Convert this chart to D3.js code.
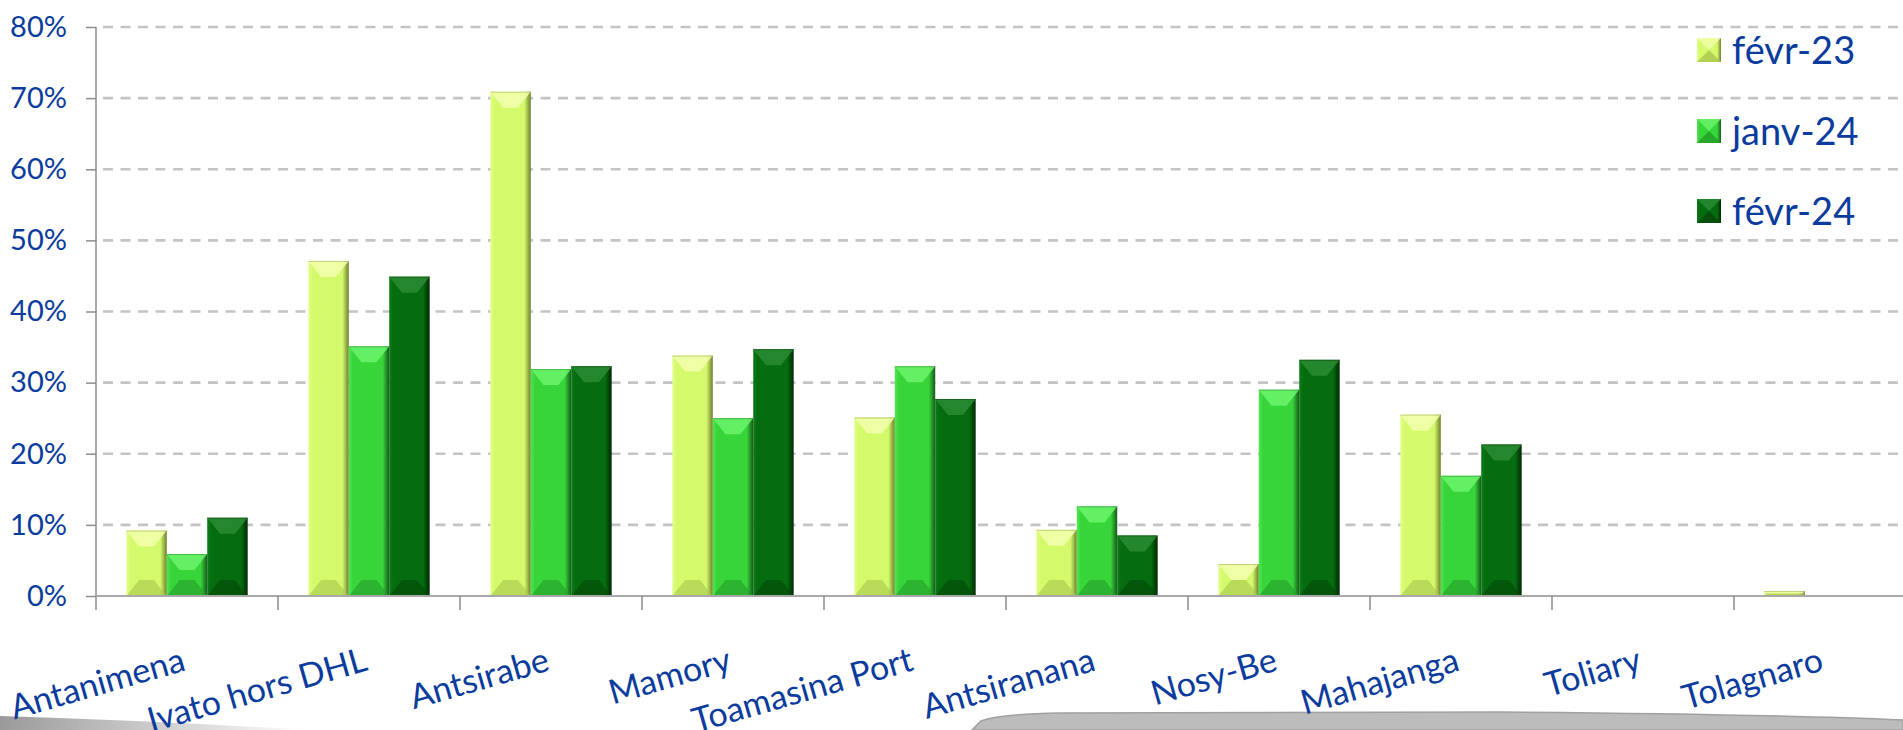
<!DOCTYPE html>
<html>
<head>
<meta charset="utf-8">
<script src="https://cdn.jsdelivr.net/npm/d3@7"></script>
<style>
  html, body { margin: 0; padding: 0; background: #fff; overflow: hidden; }
  text { font-family: Lato, "Open Sans", sans-serif; fill: #0b3c9d; }
</style>
</head>
<body>
<div id="chart"></div>
<script>
const width = 1903;
const height = 730;

// Data
const categories = ['Antanimena', 'Ivato hors DHL', 'Antsirabe', 'Mamory', 'Toamasina Port',
  'Antsiranana', 'Nosy-Be', 'Mahajanga', 'Toliary', 'Tolagnaro'];
const seriesNames = ['févr-23', 'janv-24', 'févr-24'];
const fevr23 = [9.2, 47.1, 70.9, 33.8, 25.1, 9.3, 4.5, 25.5, 0, 0.7];
const janv24 = [5.9, 35.1, 31.9, 25.0, 32.3, 12.6, 29.0, 16.9, 0, 0];
const fevr24 = [11.0, 44.9, 32.3, 34.7, 27.7, 8.5, 33.2, 21.3, 0, 0];
const yTicks = [0, 10, 20, 30, 40, 50, 60, 70, 80];

// base / top bevel / bottom bevel / light edge / dark edge
const palette = {
  'févr-23': ['#d4fa6c', '#f2ffae', '#a9c64e', '#e2ff8c', '#6f7f2c'],
  'janv-24': ['#38d53a', '#6cf46c', '#249c28', '#52e552', '#15581a'],
  'févr-24': ['#066c10', '#2a8c33', '#034808', '#0b7d16', '#012805']
};

// plot box (the chart runs off the right edge, like the original)
const x0 = 96;
const step = 182;
const yBase = 596;
const yTop = 27;
const labelY = 670;

const x = d3.scaleBand()
  .domain(categories)
  .range([x0, x0 + step * categories.length]);

const xInner = d3.scaleBand()
  .domain(seriesNames)
  .range([0, x.bandwidth()])
  .paddingOuter(0.75);

const y = d3.scaleLinear()
  .domain([0, 80])
  .range([yBase, yTop]);

const rows = categories.map((c, i) => ({
  cat: c,
  values: [
    { name: seriesNames[0], v: fevr23[i] },
    { name: seriesNames[1], v: janv24[i] },
    { name: seriesNames[2], v: fevr24[i] }
  ]
}));

const svg = d3.select('#chart').append('svg')
  .attr('width', width)
  .attr('height', height);

const defs = svg.append('defs');

seriesNames.forEach((s, i) => {
  const p = palette[s];
  const g = defs.append('linearGradient')
    .attr('id', 'grad' + i)
    .attr('x1', 0).attr('x2', 1).attr('y1', 0).attr('y2', 0);
  g.append('stop').attr('offset', '0%').attr('stop-color', p[3]);
  g.append('stop').attr('offset', '10%').attr('stop-color', p[0]);
  g.append('stop').attr('offset', '84%').attr('stop-color', p[0]);
  g.append('stop').attr('offset', '100%').attr('stop-color', p[4]);
});

const floorGrad = defs.append('linearGradient')
  .attr('id', 'floorLeft')
  .attr('x1', 0).attr('x2', 1).attr('y1', 0).attr('y2', 0);
floorGrad.append('stop').attr('offset', '0%').attr('stop-color', '#9a9a9a');
floorGrad.append('stop').attr('offset', '100%').attr('stop-color', '#ffffff');

// bottom decoration (grey shadow shapes)
svg.append('path')
  .attr('d', 'M0,716 Q160,721 310,730 L0,730 Z')
  .attr('fill', 'url(#floorLeft)');

svg.append('path')
  .attr('d', 'M972,730 L981,721 Q1000,714 1060,713 L1500,712 Q1760,714 1903,720 L1903,730 Z')
  .attr('fill', '#bcbcbc')
  .attr('stroke', '#a0a0a0')
  .attr('stroke-width', 1.5);

// gridlines
svg.append('g')
  .selectAll('line')
  .data(yTicks.slice(1))
  .enter()
  .append('line')
    .attr('x1', x0 + 2)
    .attr('x2', width)
    .attr('y1', d => y(d))
    .attr('y2', d => y(d))
    .attr('stroke', '#c4c4c4')
    .attr('stroke-width', 2.6)
    .attr('stroke-dasharray', '10 7.5')
    .attr('stroke-dashoffset', -5);

// y axis
const yAxis = d3.axisLeft(y)
  .tickValues(yTicks)
  .tickFormat(d => d + '%')
  .tickSize(10)
  .tickPadding(19);

const yAxisG = svg.append('g')
  .attr('transform', `translate(${x0}, 0)`)
  .call(yAxis);

yAxisG.select('.domain').remove();
yAxisG.selectAll('.tick line').attr('stroke', '#8c8c8c').attr('stroke-width', 1.5);
yAxisG.selectAll('.tick text')
  .attr('font-size', 29)
  .attr('font-family', 'Lato, sans-serif')
  .attr('fill', '#0b3c9d');

svg.append('line')
  .attr('x1', x0).attr('x2', x0)
  .attr('y1', yTop).attr('y2', yBase + 14)
  .attr('stroke', '#8c8c8c')
  .attr('stroke-width', 1.5);

// bars
function bevelBar (sel, i) {
  const p = palette[seriesNames[i]];
  sel.each(function (d) {
    const g = d3.select(this);
    const bx = xInner(d.name);
    const bw = xInner.bandwidth();
    const by = y(d.v);
    const bh = yBase - by;
    if (bh <= 0) return;
    const b = Math.min(16, bh / 2);
    const inset = Math.min(8, bw / 4) * (b / 16);

    g.append('rect')
      .attr('x', bx).attr('y', by)
      .attr('width', bw).attr('height', bh)
      .attr('fill', `url(#grad${i})`);

    g.append('path')
      .attr('d', `M${bx},${by} L${bx + bw},${by} L${bx + bw - inset * 1.6},${by + b} L${bx + inset * 1.6},${by + b} Z`)
      .attr('fill', p[1])
      .attr('opacity', 0.85);

    g.append('path')
      .attr('d', `M${bx},${yBase} L${bx + bw},${yBase} L${bx + bw - inset * 1.6},${yBase - b} L${bx + inset * 1.6},${yBase - b} Z`)
      .attr('fill', p[2])
      .attr('opacity', 0.6);

    g.append('line')
      .attr('x1', bx).attr('x2', bx + bw)
      .attr('y1', by + 0.5).attr('y2', by + 0.5)
      .attr('stroke', p[4])
      .attr('stroke-opacity', 0.35);
  });
}

const groups = svg.append('g')
  .selectAll('g')
  .data(rows)
  .enter()
  .append('g')
    .attr('transform', d => `translate(${x(d.cat)}, 0)`);

seriesNames.forEach((s, i) => {
  groups.append('g')
    .datum(d => d.values[i])
    .call(bevelBar, i);
});

// x axis
svg.append('line')
  .attr('x1', x0).attr('x2', width)
  .attr('y1', yBase).attr('y2', yBase)
  .attr('stroke', '#a8a8a8')
  .attr('stroke-width', 2);

svg.append('g')
  .selectAll('line')
  .data(categories.slice(1))
  .enter()
  .append('line')
    .attr('x1', d => x(d))
    .attr('x2', d => x(d))
    .attr('y1', yBase)
    .attr('y2', yBase + 14)
    .attr('stroke', '#8c8c8c')
    .attr('stroke-width', 1.5);

svg.append('g')
  .selectAll('text')
  .data(categories)
  .enter()
  .append('text')
    .attr('x', d => x(d) + x.bandwidth() / 2)
    .attr('y', labelY)
    .attr('text-anchor', 'end')
    .attr('font-size', 34)
    .attr('transform', d => `rotate(-16, ${x(d) + x.bandwidth() / 2}, ${labelY})`)
    .text(d => d);

// legend
const legend = svg.append('g')
  .attr('transform', 'translate(1697, 0)');

const legendRows = [50, 131, 211];

seriesNames.forEach((s, i) => {
  const p = palette[s];
  const g = legend.append('g')
    .attr('transform', `translate(0, ${legendRows[i]})`);
  g.append('rect')
    .attr('x', 0).attr('y', -12)
    .attr('width', 24).attr('height', 24)
    .attr('fill', `url(#grad${i})`);
  g.append('path')
    .attr('d', 'M0,-12 L24,-12 L12,0 Z')
    .attr('fill', p[1]).attr('opacity', 0.8);
  g.append('path')
    .attr('d', 'M0,12 L24,12 L12,0 Z')
    .attr('fill', p[2]).attr('opacity', 0.8);
  g.append('text')
    .attr('x', 35)
    .attr('y', 0)
    .attr('dy', '0.36em')
    .attr('font-size', 38)
    .text(s);
});
</script>
</body>
</html>
